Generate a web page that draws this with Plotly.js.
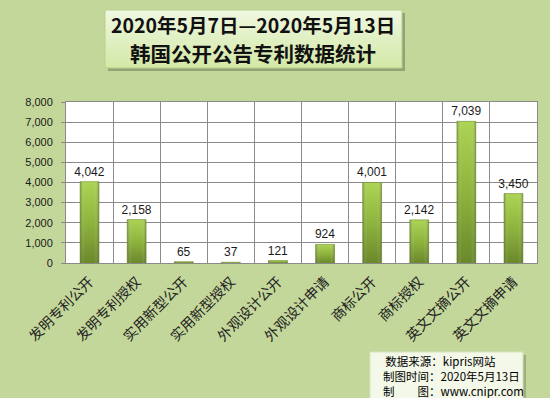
<!DOCTYPE html>
<html>
<head>
<meta charset="utf-8">
<script src="https://cdn.plot.ly/plotly-3.0.1.min.js"></script>
<style>html,body{margin:0;padding:0;background:#c4d79b;}#chart{width:550px;height:398px;}</style>
</head>
<body>
<div id="chart"></div>
<script>
// ---- data ----
const categories = ["发明专利公开","发明专利授权","实用新型公开","实用新型授权","外观设计公开","外观设计申请","商标公开","商标授权","英文文摘公开","英文文摘申请"];
const counts = [4042, 2158, 65, 37, 121, 924, 4001, 2142, 7039, 3450];
const yTickVals = [0,1000,2000,3000,4000,5000,6000,7000,8000];
const titleLine1 = "2020年5月7日—2020年5月13日";
const titleLine2 = "韩国公开公告专利数据统计";
const sourceLines = ["&#8201;数据来源：kipris网站","制图时间：2020年5月13日","制　　图：www.cnipr.com"];

// ---- layout helpers (pixel -> paper) ----
const L = 66, R = 537, T = 102, B = 263;
const px = x => (x - L) / (R - L);
const py = y => (B - y) / (B - T);

const cjk = '"Noto Sans CJK SC", "Noto Sans", sans-serif';

const trace = {
  type: 'bar',
  x: categories,
  y: counts,
  marker: {color: '#8fb33e', line: {color: '#6f8d2e', width: 0.6}},
  text: counts.map(v => v.toLocaleString('en-US')),
  textposition: 'outside',
  constraintext: 'none',
  cliponaxis: false,
  textfont: {family: '"Liberation Sans", Arial, sans-serif', size: 12, color: '#1a1a1a'},
  hoverinfo: 'none'
};

const layout = {
  width: 550, height: 398,
  paper_bgcolor: '#c4d79b',
  plot_bgcolor: '#ffffff',
  margin: {l: L, r: 550 - R, t: T, b: 398 - B},
  showlegend: false,
  bargap: 0.6,
  xaxis: {
    type: 'category',
    tickson: 'boundaries',
    showgrid: true, gridcolor: '#8a8a8a', gridwidth: 1,
    showline: true, linecolor: '#8a8a8a', linewidth: 1, mirror: true,
    ticks: '', tickangle: -45,
    ticklabelstandoff: 4,
    tickfont: {family: cjk, size: 14, color: '#222222'},
    fixedrange: true
  },
  yaxis: {
    range: [0, 8000],
    tickvals: yTickVals,
    tickformat: ',d',
    showgrid: true, gridcolor: '#8a8a8a', gridwidth: 1,
    showline: true, linecolor: '#8a8a8a', linewidth: 1, mirror: true,
    ticks: 'outside', ticklen: 4, tickcolor: '#8a8a8a',
    ticklabelstandoff: 6,
    tickfont: {family: '"Liberation Sans", Arial, sans-serif', size: 11, color: '#1a1a1a'},
    zeroline: false,
    fixedrange: true
  },
  shapes: [
    {type: 'rect', xref: 'paper', yref: 'paper', x0: px(108), x1: px(405), y0: py(13), y1: py(71),
     fillcolor: 'rgba(90,100,70,0.45)', line: {width: 0}, layer: 'above'},
    {type: 'rect', xref: 'paper', yref: 'paper', x0: px(105), x1: px(402), y0: py(10), y1: py(68),
     fillcolor: '#e2f0c6', line: {color: '#b9cf8c', width: 1}, layer: 'above'},
    {type: 'rect', xref: 'paper', yref: 'paper', x0: px(373), x1: px(526), y0: py(355), y1: py(401),
     fillcolor: 'rgba(90,100,70,0.35)', line: {width: 0}, layer: 'above'},
    {type: 'rect', xref: 'paper', yref: 'paper', x0: px(370), x1: px(523), y0: py(352), y1: py(400),
     fillcolor: '#f3f8e8', line: {color: '#d6e3bb', width: 1}, layer: 'above'}
  ],
  annotations: [
    {xref: 'paper', yref: 'paper', x: px(253), y: py(24), xanchor: 'center', yanchor: 'middle',
     text: '<b>' + titleLine1 + '</b>', showarrow: false,
     font: {family: cjk, size: 19.5, color: '#111111'}},
    {xref: 'paper', yref: 'paper', x: px(253), y: py(53), xanchor: 'center', yanchor: 'middle',
     text: '<b>' + titleLine2 + '</b>', showarrow: false,
     font: {family: cjk, size: 20.5, color: '#111111'}},
    {xref: 'paper', yref: 'paper', x: px(381), y: py(376), xanchor: 'left', yanchor: 'middle',
     text: sourceLines.join('<br>'), showarrow: false, align: 'left',
     font: {family: cjk, size: 11.5, color: '#000000'}}
  ]
};

Plotly.newPlot('chart', [trace], layout, {staticPlot: true, displayModeBar: false}).then(gd => {
  const svg = gd.querySelector('svg.main-svg');
  const NS = 'http://www.w3.org/2000/svg';
  const defs = document.createElementNS(NS, 'defs');
  function grad(id, vertical, stops) {
    const g = document.createElementNS(NS, 'linearGradient');
    g.setAttribute('id', id);
    g.setAttribute('x1', '0'); g.setAttribute('y1', '0');
    g.setAttribute('x2', vertical ? '0' : '1'); g.setAttribute('y2', vertical ? '1' : '0');
    stops.forEach(([o, c]) => {
      const s = document.createElementNS(NS, 'stop');
      s.setAttribute('offset', o); s.setAttribute('stop-color', c);
      g.appendChild(s);
    });
    defs.appendChild(g);
  }
  grad('barGrad', true, [['0', '#acd455'], ['0.5', '#8fb43e'], ['1', '#6a882b']]);
  grad('barEdge', false, [['0', 'rgba(60,80,20,0.35)'], ['0.25', 'rgba(255,255,255,0)'], ['0.75', 'rgba(255,255,255,0)'], ['1', 'rgba(60,80,20,0.35)']]);
  grad('titleGrad', true, [['0', '#eff8e1'], ['1', '#d3e8a6']]);
  svg.insertBefore(defs, svg.firstChild);
  const bars = gd.querySelectorAll('.barlayer .point path');
  bars.forEach(p => {
    p.style.fill = 'url(#barGrad)';
    const ov = p.cloneNode(false);
    ov.style.fill = 'url(#barEdge)';
    ov.style.stroke = 'none';
    p.parentNode.appendChild(ov);
  });
  const shp = gd.querySelectorAll('.layer-above .shapelayer path');
  if (shp[1]) shp[1].style.fill = 'url(#titleGrad)';
});
</script>
</body>
</html>
